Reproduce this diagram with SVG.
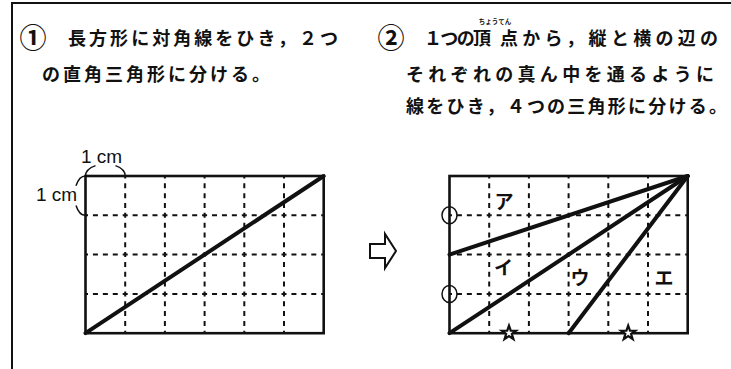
<svg xmlns="http://www.w3.org/2000/svg" width="731" height="369" viewBox="0 0 731 369">
<style>
.jp{font-family:"Noto Sans CJK JP","Noto Sans CJK SC",sans-serif;font-size:18px;font-weight:bold;fill:#111}
.num{font-family:"Noto Sans CJK JP","Noto Sans CJK SC",sans-serif;font-size:27px;font-weight:bold;fill:#111}
.ruby{font-family:"Noto Sans CJK JP",sans-serif;font-size:6.5px;font-weight:bold;fill:#111}
.kana{font-family:"Noto Sans CJK JP",sans-serif;font-size:19px;font-weight:bold;fill:#111}
.cm{font-family:"Liberation Sans",Arial,sans-serif;font-size:19px;fill:#111}
.frame{fill:none;stroke:#111;stroke-width:2}
.outline{fill:none;stroke:#111;stroke-width:2.6}
.hd{stroke:#111;stroke-width:2;stroke-dasharray:5 4.925;stroke-dashoffset:2.5;fill:none}
.vd{stroke:#111;stroke-width:2;stroke-dasharray:5 4.825;stroke-dashoffset:2.5;fill:none}
.cut{stroke:#111;stroke-width:4;fill:none;stroke-linecap:round}
.thin{fill:none;stroke:#111;stroke-width:1.5}
</style>
<defs>
<path id="star" d="M0,-7.5 L1.76,-2.43 L7.13,-2.32 L2.85,0.93 L4.41,6.07 L0,3 L-4.41,6.07 L-2.85,0.93 L-7.13,-2.32 L-1.76,-2.43 Z" fill="#fff" stroke="#111" stroke-width="2.2" stroke-linejoin="miter"/>
</defs>
<rect width="731" height="369" fill="#fff"/>
<g id="frame">
<path class="frame" d="M12,369 V3 H731"/>
</g>
<g id="text-step1">
<text class="num" x="33" y="48" text-anchor="middle">①</text>
<text class="jp" x="68" y="45" textLength="270" lengthAdjust="spacing">長方形に対角線をひき，２つ</text>
<text class="jp" x="42" y="81" textLength="228" lengthAdjust="spacing">の直角三角形に分ける。</text>
</g>
<g id="text-step2">
<text class="num" x="391" y="48" text-anchor="middle">②</text>
<text class="jp" x="424" y="45" textLength="67" lengthAdjust="spacing">１つの頂</text>
<text class="ruby" x="495" y="24" text-anchor="middle">ちょうてん</text>
<text class="jp" x="500" y="45" textLength="218" lengthAdjust="spacing">点から，縦と横の辺の</text>
<text class="jp" x="406" y="81" textLength="308" lengthAdjust="spacing">それぞれの真ん中を通るように</text>
<text class="jp" x="406" y="113" textLength="321" lengthAdjust="spacing">線をひき，４つの三角形に分ける。</text>
</g>
<g id="grid-left">
<path class="vd" d="M125.2,176V333.2M164.9,176V333.2M204.6,176V333.2M244.3,176V333.2M284,176V333.2"/>
<path class="hd" d="M85.5,215.3H323.7M85.5,254.6H323.7M85.5,293.9H323.7"/>
<rect class="outline" x="85.5" y="176" width="238.2" height="157.2"/>
<line class="cut" x1="85.5" y1="333.2" x2="323.7" y2="176"/>
</g>
<g id="unit-labels">
<text class="cm" x="81" y="163">1 cm</text>
<text class="cm" x="36" y="201">1 cm</text>
<path class="thin" d="M85.5,176 A20,12 0 0 1 95.5,165.6 M115.5,165.6 A20,12 0 0 1 125.2,176"/>
<path class="thin" d="M85.5,176 A11,19.6 0 0 0 76,185.8 M76,205.4 A11,19.6 0 0 0 85.5,215.3"/>
</g>
<g id="arrow">
<polygon points="370,244 385,244 385,234 396,251 385,268 385,258 370,258" fill="#fff" stroke="#111" stroke-width="2" stroke-linejoin="miter"/>
</g>
<g id="grid-right">
<path class="vd" d="M489.2,176V333.2M528.9,176V333.2M568.6,176V333.2M608.3,176V333.2M648,176V333.2"/>
<path class="hd" d="M449.5,215.3H687.7M449.5,254.6H687.7M449.5,293.9H687.7"/>
<rect class="outline" x="449.5" y="176" width="238.2" height="157.2"/>
</g>
<g id="connectors">
<path class="cut" d="M687.7,176 L449.5,254.6"/>
<path class="cut" d="M687.7,176 L449.5,333.2"/>
<path class="cut" d="M687.7,176 L568.6,333.2"/>
</g>
<g id="marks">
<ellipse class="thin" cx="449.5" cy="215.3" rx="7.5" ry="8.5"/>
<ellipse class="thin" cx="449.5" cy="293.9" rx="7.5" ry="8.5"/>
<use href="#star" x="509" y="333"/>
<use href="#star" x="628.2" y="333"/>
</g>
<g id="labels">
<text class="kana" x="504" y="208.5" text-anchor="middle">ア</text>
<text class="kana" x="503.5" y="275" text-anchor="middle">イ</text>
<text class="kana" x="580" y="284.5" text-anchor="middle">ウ</text>
<text class="kana" x="664" y="284.5" text-anchor="middle">エ</text>
</g>
</svg>
